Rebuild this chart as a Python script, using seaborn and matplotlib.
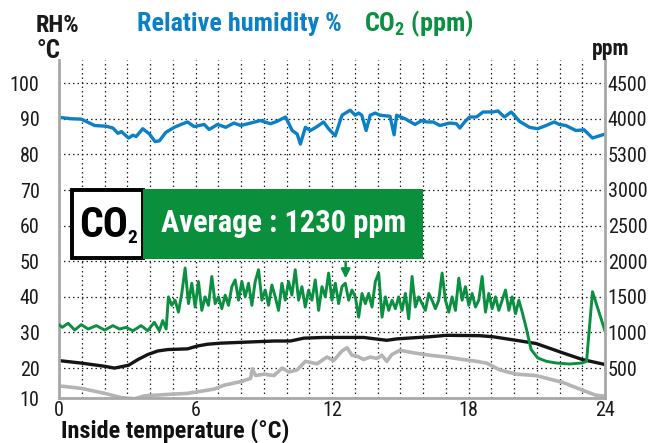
import numpy as np
import seaborn as sns
import matplotlib.pyplot as plt
from matplotlib.patches import Rectangle

# style first, fonts after (set_theme resets font.family)
sns.set_theme(style="white")
FONTS = ['Roboto Condensed', 'Roboto', 'DejaVu Sans']
plt.rcParams['font.family'] = FONTS
plt.rcParams['mathtext.fontset'] = 'custom'
plt.rcParams['mathtext.rm'] = 'Roboto Condensed'
plt.rcParams['mathtext.bf'] = 'Roboto Condensed:bold'

# ---- data ----
# relative humidity (%), left axis
rh_hours = [0.0, 0.55, 0.98, 1.57, 2.08, 2.37, 2.59, 2.74, 3.06, 3.25, 3.39, 3.68, 3.98,
            4.22, 4.41, 4.70, 5.07, 5.36, 5.65, 5.94, 6.38, 6.60, 6.97, 7.33, 7.69,
            7.99, 8.42, 8.86, 9.30, 9.59, 9.96, 10.25, 10.47, 10.61, 10.83, 11.05,
            11.34, 11.63, 11.85, 12.14, 12.44, 12.80, 13.02, 13.17, 13.31, 13.50,
            13.68, 13.90, 14.11, 14.55, 14.73, 14.84, 15.21, 15.65, 15.94, 16.16,
            16.45, 16.74, 17.18, 17.47, 17.62, 17.83, 18.05, 18.35, 18.64, 19.07,
            19.29, 19.58, 19.88, 20.24, 20.68, 21.04, 21.41, 21.77, 21.99, 22.28,
            22.72, 23.08, 23.45, 24.0]
rh_values = [90.4, 90.0, 89.9, 88.1, 87.9, 87.4, 85.9, 86.4, 84.6, 85.4, 85.0, 87.2, 85.7,
             83.6, 83.8, 86.2, 87.6, 88.4, 89.1, 87.8, 88.4, 87.0, 88.4, 87.6, 88.8,
             88.1, 88.8, 89.5, 88.6, 89.3, 90.5, 86.7, 85.7, 82.9, 87.6, 86.7,
             87.8, 89.1, 87.2, 85.2, 91.0, 92.4, 91.0, 91.6, 91.0, 86.7,
             91.0, 91.6, 91.0, 90.7, 85.5, 91.0, 90.0, 88.4, 89.5, 89.1,
             89.1, 88.1, 88.8, 88.6, 87.4, 89.1, 90.5, 90.5, 91.9, 91.9,
             92.2, 90.5, 91.9, 89.3, 87.6, 87.2, 88.1, 89.1, 88.4, 88.1,
             86.7, 86.9, 84.6, 85.7]

# inside temperature (°C), black line
tin_hours = [0.0, 0.98, 2.01, 2.44, 3.06, 3.47, 3.90, 4.34, 4.78, 5.65, 6.09, 6.53, 7.11,
             8.28, 9.45, 10.17, 10.76, 11.63, 12.5, 13.39, 14.41, 14.85, 16.30, 17.03,
             18.49, 19.07, 20.09, 20.97, 22.13, 23.01, 24.0]
tin_values = [22.1, 21.4, 20.5, 20.0, 20.8, 22.4, 23.8, 24.8, 25.2, 25.4, 26.2, 26.7, 27.0,
              27.3, 27.6, 27.6, 28.4, 28.6, 28.6, 28.6, 27.8, 28.2, 28.8, 29.2,
              29.1, 28.8, 27.8, 26.9, 24.3, 22.4, 21.0]

# second temperature trace (grey line)
tout_hours = [0.0, 0.98, 2.01, 2.74, 3.32, 3.76, 4.78, 5.65, 6.24, 6.82, 7.26, 7.99, 8.42,
              8.50, 8.64, 9.01, 9.45, 9.81, 10.10, 10.47, 10.83, 11.34, 11.78, 12.07,
              12.44, 12.66, 12.88, 13.12, 13.39, 13.68, 13.97, 14.19, 14.41, 14.63,
              14.99, 15.57, 16.30, 17.03, 17.76, 18.35, 18.79, 19.37, 20.09, 20.97,
              22.13, 23.01, 23.59, 24.0]
tout_values = [15.0, 14.3, 12.9, 11.7, 11.4, 12.2, 12.6, 12.9, 13.5, 14.1, 15.2, 16.2, 17.1,
               19.8, 17.9, 18.3, 17.9, 20.0, 18.9, 19.5, 21.9, 21.2, 23.1, 22.1,
               24.8, 25.7, 23.6, 23.3, 22.4, 23.1, 22.7, 23.6, 21.9, 23.8,
               25.0, 24.3, 23.6, 23.1, 22.4, 21.9, 21.4, 19.5, 18.3, 17.9,
               16.0, 13.8, 12.4, 12.1]

# CO2 (ppm), right axis: night, daytime readings (regular interval), evening
co2_night_hours = [0.0, 0.14, 0.40, 0.69, 0.98, 1.28, 1.64, 2.01, 2.37, 2.66, 2.95, 3.25,
                   3.61, 3.90, 4.19, 4.41, 4.56, 4.71]
co2_night = [1110, 1072, 1129, 1034, 1110, 1048, 1096, 1034, 1096, 1048, 1072, 1024,
             1096, 1024, 1143, 1024, 1167, 1048]
co2_day_start, co2_day_end = 4.81, 20.36
co2_day = [1500, 1381, 1453, 1286, 1548, 1905, 1405, 1691, 1357, 1715, 1310, 1500,
           1381, 1786, 1405, 1500, 1334, 1524, 1381, 1643, 1738, 1453, 1715, 1500,
           1691, 1381, 1715, 1881, 1453, 1596, 1381, 1667, 1500, 1310, 1691, 1453,
           1715, 1524, 1881, 1453, 1643, 1357, 1596, 1453, 1738, 1310, 1643, 1500,
           1834,
           1453, 1691, 1405, 1643, 1691, 1453, 1596, 1500, 1215, 1548, 1405, 1548,
           1357, 1715, 1834, 1215, 1500, 1310, 1453, 1334, 1500, 1310, 1548, 1191,
           1786, 1357, 1500, 1405, 1310, 1548, 1453, 1334, 1453, 1834, 1453, 1286,
           1500, 1310, 1762, 1453, 1643, 1381, 1548, 1357, 1453, 1786, 1286, 1548,
           1334, 1500, 1310, 1453, 1596, 1310, 1500, 1262, 1453, 1286]
co2_eve_hours = [20.53, 20.75, 21.04, 21.41, 21.84, 22.43, 23.01, 23.19, 23.45, 24.0]
co2_eve = [1072, 762, 643, 596, 572, 557, 572, 596, 1572, 1020]

co2_hours = co2_night_hours + list(np.linspace(co2_day_start, co2_day_end, len(co2_day))) + co2_eve_hours
co2_values = co2_night + co2_day + co2_eve

left_ticks = [20, 30, 40, 50, 60, 70, 80, 90, 100]
right_ticks = [500, 1000, 1500, 2000, 2500, 3000, 3500, 4000, 4500]
right_labels = ['500', '1000', '1500', '2000', '2500', '3000', '5300', '4000', '4500']
hour_ticks = [0, 6, 12, 18, 24]
co2_average = 1230

BLUE = '#0a80c6'
GREEN = '#0a9040'
BOX_GREEN = '#0a8f3c'
BLACK = '#151515'
GREY = '#b4b4b4'
SPINE = '#a8a8a8'

W, H = 651, 443
fig = plt.figure(figsize=(W / 100, H / 100), dpi=100)
ax = fig.add_axes([59 / W, 1 - 398 / H, (605 - 59) / W, (398 - 60) / H])
ax2 = ax.twinx()

# the chart's left scale starts a little above 10; the "10" sits on the bottom edge
ymin, ymax = 11.6, 106.5
ax.set_xlim(0, 24)
ax.set_ylim(ymin, ymax)
ax2.set_ylim(50 * (ymin - 10), 50 * (ymax - 10))  # ppm = 50 * (left - 10)

sns.lineplot(x=tout_hours, y=tout_values, ax=ax, color=GREY, lw=2.6, estimator=None)
sns.lineplot(x=tin_hours, y=tin_values, ax=ax, color=BLACK, lw=2.4, estimator=None)
sns.lineplot(x=rh_hours, y=rh_values, ax=ax, color=BLUE, lw=2.4, estimator=None)
sns.lineplot(x=co2_hours, y=co2_values, ax=ax2, color=GREEN, lw=2.1, estimator=None)

# grid
ax.set_xticks(hour_ticks)
ax.set_xticks(range(1, 24), minor=True)
ax.set_yticks([ymin] + left_ticks)
ax.set_yticklabels(['10'] + [str(t) for t in left_ticks])
ax.set_axisbelow(True)
grid_kw = dict(color='#222222', linestyle=(0, (1.2, 2.4)), linewidth=0.9)
ax.grid(True, axis='x', which='both', **grid_kw)
ax.grid(True, axis='y', which='major', **grid_kw)
ax2.grid(False)
ax2.set_yticks(right_ticks)
ax2.set_yticklabels(right_labels)

ax.tick_params(axis='both', which='both', length=0, labelsize=14.5, colors='#1a1a1a')
ax.tick_params(axis='y', pad=14)
ax.tick_params(axis='x', pad=2)
ax2.tick_params(axis='y', length=0, labelsize=14.5, pad=2, colors='#1a1a1a')

for a in (ax, ax2):
    a.spines['top'].set_visible(False)
ax.spines['right'].set_visible(False)
ax2.spines['left'].set_visible(False)
ax2.spines['bottom'].set_visible(False)
for s in (ax.spines['left'], ax.spines['bottom'], ax2.spines['right']):
    s.set_color(SPINE)
    s.set_linewidth(2)

# CO2 average banner
ax.add_patch(Rectangle((0.58, 50.8), 3.12, 19.2, facecolor='white', edgecolor='black',
                       lw=2.8, zorder=6))
ax.add_patch(Rectangle((3.70, 50.6), 12.30, 19.6, facecolor=BOX_GREEN, edgecolor='none',
                       zorder=6))
ax.text(0.88, 60.0, 'CO', fontsize=30, fontweight='bold', color='black',
        ha='left', va='center', zorder=7)
ax.text(3.0, 56.4, '2', fontsize=14, fontweight='bold', color='black',
        ha='left', va='center', zorder=7)
ax.text(4.49, 60.8, f'Average : {co2_average} ppm', fontsize=22, fontweight='bold',
        color='white', ha='left', va='center', zorder=7)
ax.annotate('', xy=(12.6, 44.4), xytext=(12.6, 50.6),
            arrowprops=dict(arrowstyle='-|>', color=GREEN, lw=1.8, mutation_scale=13),
            zorder=7)

# header and axis titles
fig.text(36 / W, 1 - 25 / H, 'RH%', fontsize=17.5, fontweight='bold', color='#1a1a1a',
         ha='left', va='center')
fig.text(37 / W, 1 - 51 / H, '°C', fontsize=18, fontweight='bold', color='#1a1a1a',
         ha='left', va='center')
fig.text(592 / W, 1 - 49 / H, 'ppm', fontsize=15.5, fontweight='bold', color='#1a1a1a',
         ha='left', va='center')
fig.text(137 / W, 1 - 24 / H, 'Relative humidity %', fontsize=18.8, fontweight='bold',
         color=BLUE, ha='left', va='center')
fig.text(364 / W, 1 - 24 / H, r'CO$_\mathbf{2}$ (ppm)', fontsize=18.8, fontweight='bold',
         color=GREEN, ha='left', va='center')
fig.text(61 / W, 1 - 438 / H, 'Inside temperature (°C)', fontsize=17.5, fontweight='bold',
         color='#111111', ha='left', va='baseline')

fig.savefig('out.png', dpi=100)
